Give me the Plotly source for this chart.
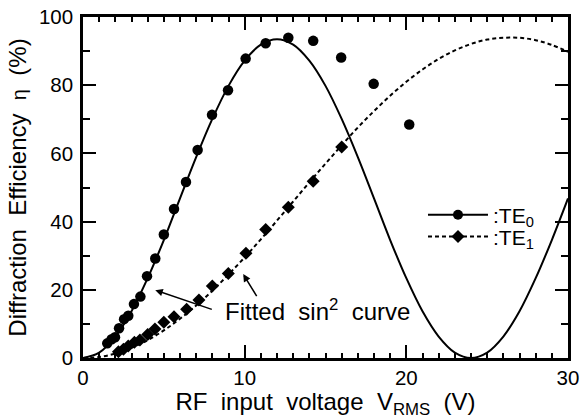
import plotly.graph_objects as go

# ===============================
# DATA
# ===============================
# measured points, TE0 (circles)
te0_v = [1.5, 1.77, 1.98, 2.23, 2.54, 2.8, 3.15, 3.55, 3.96, 4.47, 5.0, 5.63,
         6.37, 7.09, 7.98, 8.97, 10.06, 11.3, 12.7, 14.24, 15.97, 17.98, 20.18]
te0_eta = [4.3, 5.5, 6.1, 8.7, 11.4, 12.4, 15.8, 18.0, 24.0, 29.2, 36.2, 43.7,
           51.6, 61.0, 71.3, 78.5, 87.8, 92.3, 93.9, 93.0, 88.1, 80.4, 68.5]

# measured points, TE1 (diamonds)
te1_v = [2.19, 2.5, 2.8, 3.18, 3.52, 4.0, 4.45, 5.0, 5.63, 6.41, 7.17, 8.0,
         8.99, 10.08, 11.3, 12.7, 14.24, 16.0]
te1_eta = [1.85, 2.6, 3.5, 4.6, 5.3, 6.9, 8.5, 10.5, 12.1, 14.3, 17.0, 21.1,
           24.8, 30.7, 37.7, 44.2, 51.8, 61.9]

# fitted sin^2 curves, read every 1 V
fit_v = list(range(0, 31))
fit_te0 = [0, 1.6, 6.3, 13.7, 23.4, 34.6, 46.8, 58.9, 70.1, 79.8, 87.2, 91.9,
           93.5, 91.9, 87.2, 79.8, 70.1, 58.9, 46.8, 34.6, 23.4, 13.7, 6.3, 1.6,
           0, 1.6, 6.3, 13.7, 23.4, 34.6, 46.8]
fit_te1 = [0, 0.3, 1.3, 3.0, 5.2, 8.1, 11.5, 15.4, 19.7, 24.5, 29.5, 34.8,
           40.3, 45.9, 51.5, 57.0, 62.4, 67.6, 72.4, 76.9, 81.0, 84.6, 87.7, 90.2,
           92.1, 93.4, 93.9, 93.9, 93.2, 91.8, 89.8]

x_ticks = [0, 10, 20, 30]
y_ticks = [0, 20, 40, 60, 80, 100]

FONT = "Arial, Liberation Sans, sans-serif"
SP = "\u00a0\u00a0"
TICK_FS = 20.5
TITLE_FS = 24

fig = go.Figure()

# fitted curves
fig.add_trace(go.Scatter(
    x=fit_v, y=fit_te0, mode="lines", line_shape="spline",
    line=dict(color="black", width=2), showlegend=False, hoverinfo="skip"
))
fig.add_trace(go.Scatter(
    x=fit_v, y=fit_te1, mode="lines", line_shape="spline",
    line=dict(color="black", width=2, dash="4px,3px"), showlegend=False,
    hoverinfo="skip"
))

# measured points
fig.add_trace(go.Scatter(
    x=te0_v, y=te0_eta, mode="markers",
    marker=dict(symbol="circle", size=10.5, color="black"),
    showlegend=False
))
fig.add_trace(go.Scatter(
    x=te1_v, y=te1_eta, mode="markers",
    marker=dict(symbol="diamond", size=10, color="black"),
    showlegend=False
))
# legend samples (no data drawn), one legend per row
fig.add_trace(go.Scatter(
    x=[None], y=[None], mode="lines+markers",
    line=dict(color="black", width=2),
    marker=dict(symbol="circle", size=10, color="black"),
    name=":TE<sub>0</sub>", legend="legend"
))
fig.add_trace(go.Scatter(
    x=[None], y=[None], mode="lines+markers",
    line=dict(color="black", width=2, dash="4px,3px"),
    marker=dict(symbol="diamond", size=10, color="black"),
    name=":TE<sub>1</sub>", legend="legend2"
))

# annotation: "Fitted sin^2 curve" with two arrows
fig.add_annotation(
    x=14.5, y=14.1, xref="x", yref="y",
    text="Fitted" + SP + "sin<sup>2</sup>" + SP + "curve",
    showarrow=False, font=dict(family=FONT, size=24, color="black")
)
fig.add_annotation(
    x=4.47, y=19.9, ax=8.06, ay=14.1, xref="x", yref="y", axref="x", ayref="y",
    text="", showarrow=True, arrowhead=2, arrowsize=1, arrowwidth=1.5,
    arrowcolor="black"
)
fig.add_annotation(
    x=9.91, y=24.6, ax=10.8, ay=17.7, xref="x", yref="y", axref="x", ayref="y",
    text="", showarrow=True, arrowhead=2, arrowsize=1, arrowwidth=1.5,
    arrowcolor="black"
)

axis_common = dict(
    showline=True, linecolor="black", linewidth=2.5, mirror="allticks",
    ticks="inside", tickcolor="black", tickwidth=2, ticklen=13,
    showgrid=False, zeroline=False, automargin=False,
    tickfont=dict(family=FONT, size=TICK_FS, color="black"),
)

fig.update_xaxes(
    range=[0, 30], tickvals=x_ticks, ticktext=[str(v) for v in x_ticks],
    minor=dict(dtick=1, ticks="inside", ticklen=5, tickwidth=1.5,
               tickcolor="black"),
    title=dict(text="RF" + SP + "input" + SP + "voltage" + SP +
               "V<sub>RMS</sub>" + SP + "(V)",
               font=dict(family=FONT, size=TITLE_FS, color="black"), standoff=2),
    **axis_common
)
fig.update_yaxes(
    range=[0, 100], tickvals=y_ticks, ticktext=[str(v) for v in y_ticks],
    minor=dict(dtick=10, ticks="inside", ticklen=7, tickwidth=1.5,
               tickcolor="black"),
    ticklabelstandoff=3,
    title=dict(text="Diffraction" + SP + "Efficiency" + SP +
               "<span style='font-size:20px'>η</span>" + SP + "(%)",
               font=dict(family=FONT, size=TITLE_FS, color="black"), standoff=6),
    **axis_common
)

legend_common = dict(
    x=0.701, xanchor="left", yanchor="middle",
    bgcolor="rgba(0,0,0,0)", itemwidth=60,
    font=dict(family=FONT, size=21, color="black"),
)

fig.update_layout(
    width=582, height=419,
    margin=dict(l=83, r=14, t=17, b=61),
    paper_bgcolor="white", plot_bgcolor="white",
    font=dict(family=FONT, size=TITLE_FS, color="black"),
    legend=dict(y=0.419, **legend_common),
    legend2=dict(y=0.355, **legend_common),
)

# drop the default page margin so the figure sits at the window corner
fig.write_html("out.html", config={"displayModeBar": False},
               post_script="document.body.style.margin='0';")
